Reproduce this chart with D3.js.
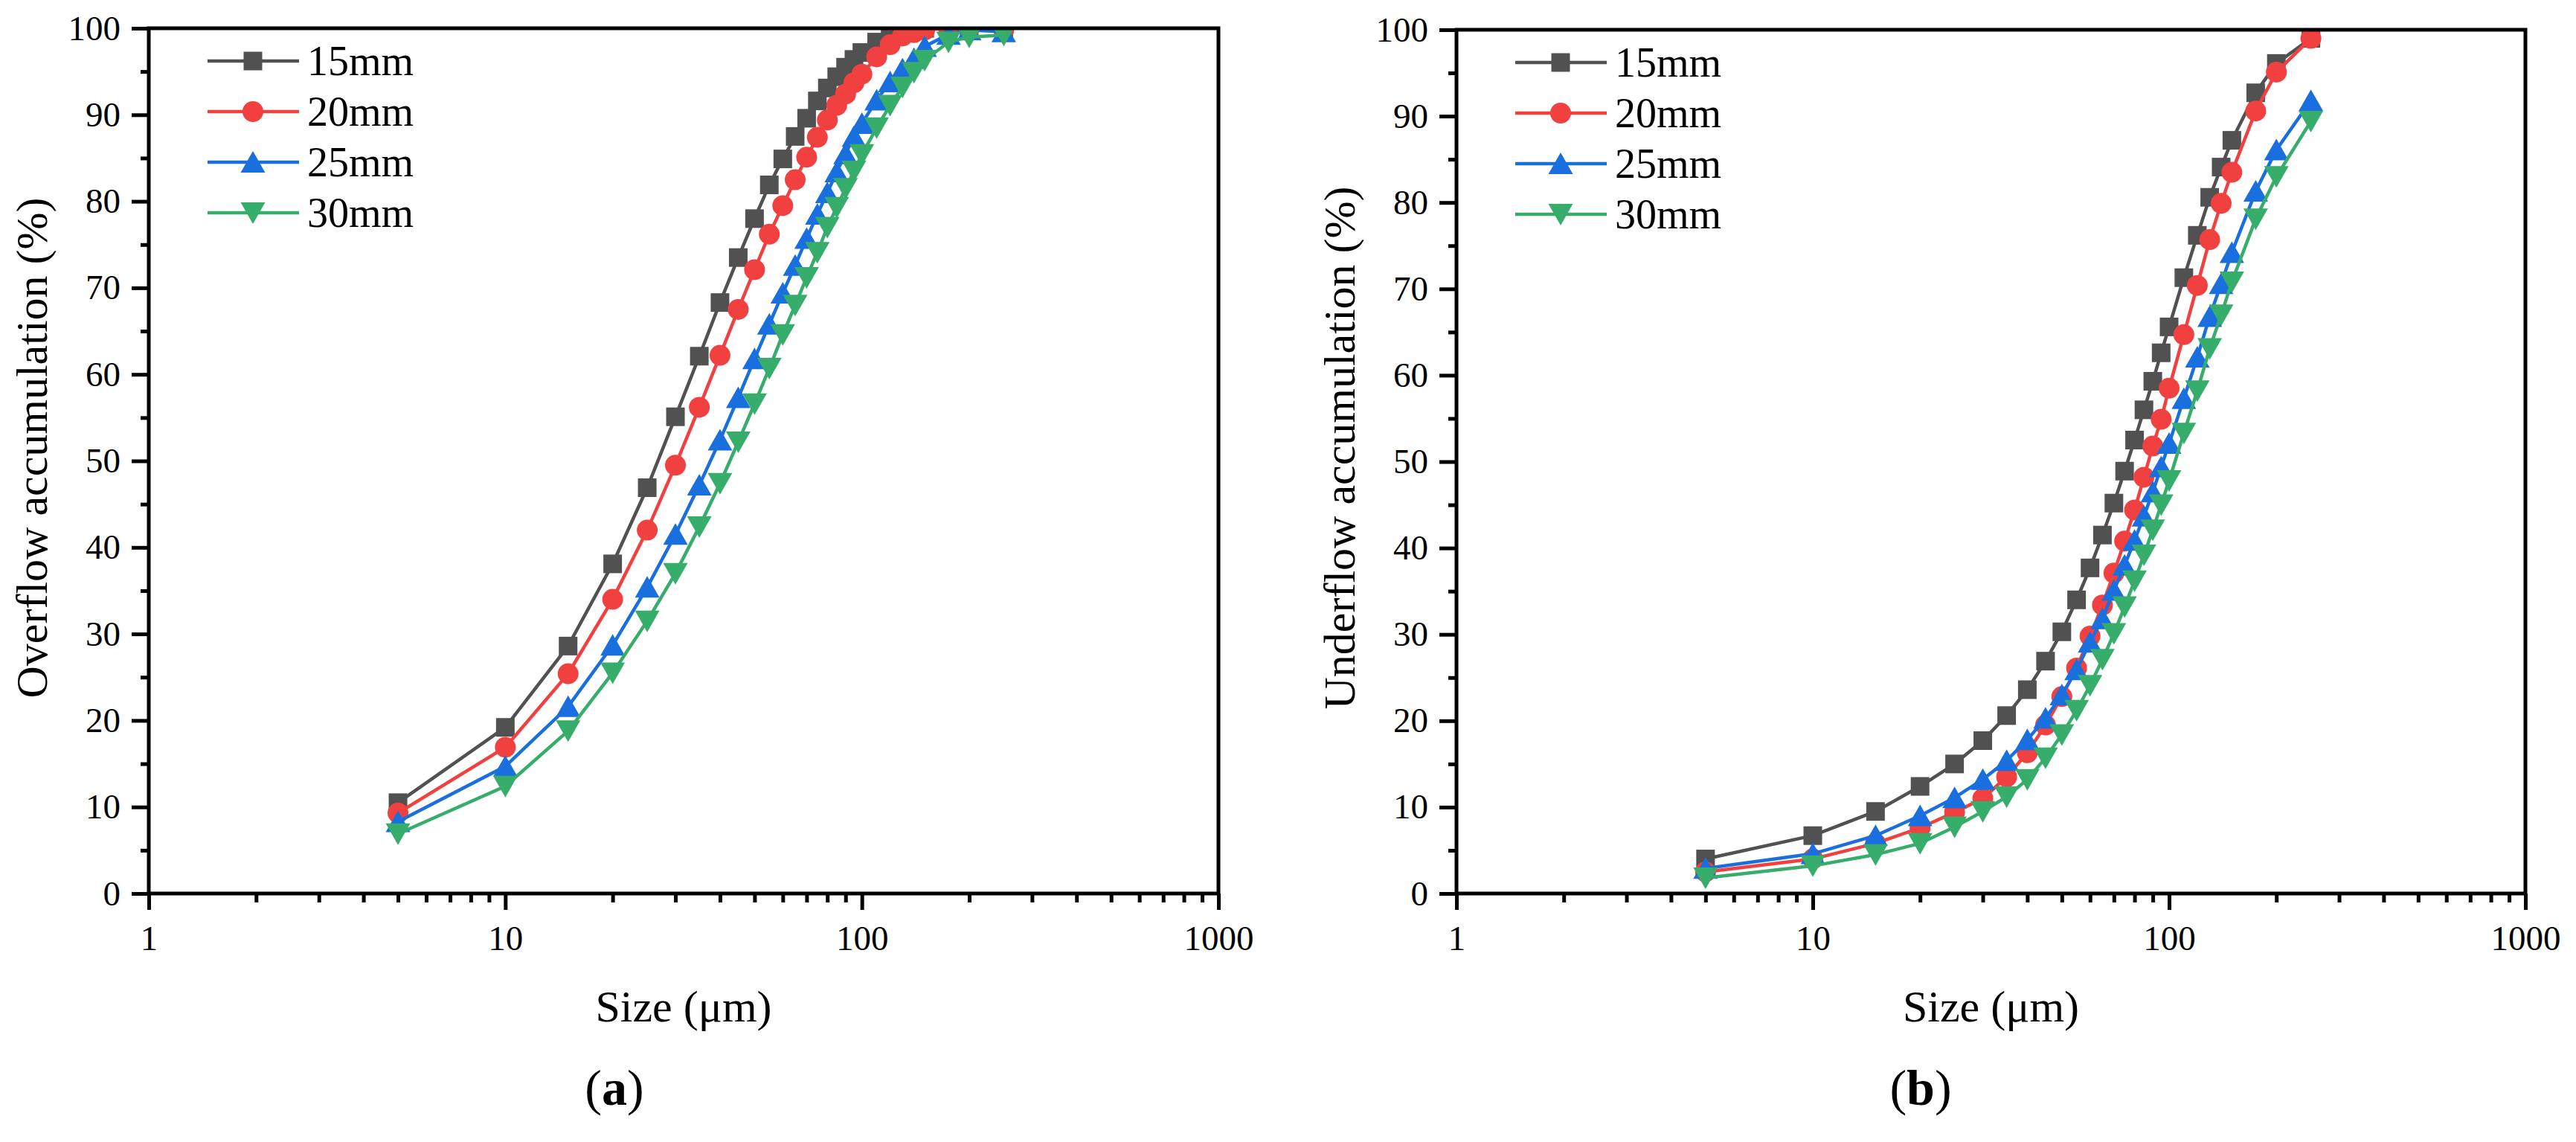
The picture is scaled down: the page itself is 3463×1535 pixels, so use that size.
<!DOCTYPE html>
<html>
<head>
<meta charset="utf-8">
<script src="https://cdn.jsdelivr.net/npm/d3@7"></script>
<style>
  body { margin: 0; background: #fff; }
  text { font-family: "Liberation Serif", "Times New Roman", serif; fill: #000; }
</style>
</head>
<body>
<div id="chart"></div>
<script>
var svgWidth = 3463;
var svgHeight = 1535;

// particle sizes (um), shared by every series
var sizes = [5, 10, 15, 20, 25, 30, 35, 40, 45, 50, 55, 60, 65, 70, 75, 80, 85, 90, 95, 100,
  110, 120, 130, 140, 150, 175, 200, 250];

var seriesNames = ["15mm", "20mm", "25mm", "30mm"];
var seriesColors = ["#515151", "#F14040", "#1A6FDF", "#37AD6B"];
var seriesSymbols = ["square", "circle", "triangleUp", "triangleDown"];

// (a) overflow accumulation (%)
var overflow15 = [10.5, 19.2, 28.6, 38.1, 46.9, 55.1, 62.1, 68.3, 73.5, 78.0, 81.9, 84.9, 87.5, 89.6, 91.6, 93.1, 94.4, 95.5, 96.4, 97.2,
  98.4, 99.2, 99.7, 100, 100, 100, 100, 100];
var overflow20 = [9.3, 16.9, 25.4, 34.0, 42.0, 49.5, 56.2, 62.2, 67.5, 72.1, 76.2, 79.5, 82.5, 85.1, 87.4, 89.4, 91.1, 92.4, 93.7, 94.7,
  96.7, 98.1, 99.1, 99.5, 99.8, 100, 100, 99.8];
var overflow25 = [8.3, 14.7, 21.6, 28.7, 35.4, 41.5, 47.2, 52.4, 57.3, 61.8, 65.8, 69.4, 72.6, 75.7, 78.5, 81.0, 83.4, 85.5, 87.5, 89.0,
  91.7, 93.8, 95.3, 96.5, 97.9, 99.3, 99.8, 99.6];
var overflow30 = [6.9, 12.4, 18.8, 25.5, 31.5, 37.0, 42.4, 47.4, 52.2, 56.6, 60.7, 64.6, 68.0, 71.2, 74.1, 77.0, 79.3, 81.5, 83.5, 85.4,
  88.5, 91.1, 93.2, 94.9, 96.3, 98.4, 99.0, 99.2];

// (b) underflow accumulation (%)
var underflow15 = [4.0, 6.7, 9.5, 12.4, 15.0, 17.7, 20.6, 23.6, 26.9, 30.3, 34.0, 37.7, 41.5, 45.2, 48.9, 52.5, 56.0, 59.3, 62.6, 65.6,
  71.3, 76.2, 80.6, 84.1, 87.2, 92.7, 96.1, 99.0];
var underflow20 = [2.5, 4.0, 5.8, 7.6, 9.4, 11.0, 13.5, 16.3, 19.5, 22.8, 26.1, 29.8, 33.4, 37.1, 40.8, 44.4, 48.2, 51.8, 54.9, 58.5,
  64.7, 70.4, 75.7, 79.9, 83.5, 90.6, 95.1, 99.0];
var underflow25 = [2.9, 4.6, 6.7, 9.0, 11.1, 13.2, 15.4, 17.8, 20.3, 23.0, 25.9, 29.1, 31.8, 35.1, 38.0, 40.9, 43.7, 46.5, 49.4, 52.1,
  57.3, 62.1, 66.8, 70.6, 74.2, 81.3, 86.1, 91.8];
var underflow30 = [1.8, 3.2, 4.5, 5.8, 7.7, 9.5, 11.2, 13.2, 15.7, 18.4, 21.2, 24.1, 27.1, 30.1, 33.2, 36.2, 39.2, 42.1, 45.0, 47.8,
  53.3, 58.2, 63.1, 67.0, 70.8, 78.1, 83.0, 89.4];

var xTickValues = [1, 10, 100, 1000];
var yTickValues = [0, 10, 20, 30, 40, 50, 60, 70, 80, 90, 100];
var yMinorValues = [5, 15, 25, 35, 45, 55, 65, 75, 85, 95];

var svg = d3.select("#chart")
  .append("svg")
  .attr("width", svgWidth)
  .attr("height", svgHeight);

var defs = svg.append("defs");

// marker path centred on 0,0
function symbolPath(kind) {
  if (kind === "square") return "M-12.5,-12.5H12.5V12.5H-12.5Z";
  if (kind === "circle") return "M-14,0A14,14 0 1,0 14,0A14,14 0 1,0 -14,0Z";
  if (kind === "triangleUp") return "M0,-15L16.5,14L-16.5,14Z";
  return "M0,15L16.5,-14L-16.5,-14Z";
}

function drawPanel(id, box, yTitle, tag, tagX, seriesValues) {
  var g = svg.append("g");

  var xScale = d3.scaleLog().domain([1, 1000]).range([box.left, box.right]);
  var yScale = d3.scaleLinear().domain([0, 100]).range([box.bottom, box.top]);

  // data is clipped to the plot area
  defs.append("clipPath")
    .attr("id", "clip-" + id)
    .append("rect")
    .attr("x", box.left)
    .attr("y", box.top)
    .attr("width", box.right - box.left)
    .attr("height", box.bottom - box.top);

  // minor ticks 2..9 in each decade
  var xMinor = [];
  [1, 10, 100].forEach(function(d) {
    for (var k = 2; k <= 9; k++) xMinor.push(d * k);
  });

  var xAxis = g.append("g")
    .attr("transform", `translate(0, ${box.bottom})`)
    .call(d3.axisBottom(xScale).tickValues(xTickValues).tickSize(22).tickPadding(21).tickFormat(d3.format("d")));
  var xAxisMinor = g.append("g")
    .attr("transform", `translate(0, ${box.bottom})`)
    .call(d3.axisBottom(xScale).tickValues(xMinor).tickSize(12).tickFormat(""));

  var yAxis = g.append("g")
    .attr("transform", `translate(${box.left}, 0)`)
    .call(d3.axisLeft(yScale).tickValues(yTickValues).tickSize(23).tickPadding(15));
  var yAxisMinor = g.append("g")
    .attr("transform", `translate(${box.left}, 0)`)
    .call(d3.axisLeft(yScale).tickValues(yMinorValues).tickSize(11).tickFormat(""));

  [xAxis, xAxisMinor, yAxis, yAxisMinor].forEach(function(a) {
    a.select(".domain").remove();
    a.attr("font-family", null).attr("font-size", null);
    a.selectAll("line").attr("stroke", "#000").attr("stroke-width", 5);
    a.selectAll("text").style("font-size", "47px");
  });

  var line = d3.line()
    .x(function(d) { return xScale(d[0]); })
    .y(function(d) { return yScale(d[1]); });

  var plot = g.append("g").attr("clip-path", "url(#clip-" + id + ")");

  seriesValues.forEach(function(vals, i) {
    var pts = sizes.map(function(s, j) { return [s, vals[j]]; });
    var sg = plot.append("g");
    sg.append("path")
      .attr("d", line(pts))
      .attr("fill", "none")
      .attr("stroke", seriesColors[i])
      .attr("stroke-width", 4.5);
    sg.selectAll("path.mark")
      .data(pts)
      .enter()
      .append("path")
      .attr("class", "mark")
      .attr("d", symbolPath(seriesSymbols[i]))
      .attr("transform", function(d) { return `translate(${xScale(d[0])}, ${yScale(d[1])})`; })
      .attr("fill", seriesColors[i]);
  });

  // frame
  g.append("rect")
    .attr("x", box.left)
    .attr("y", box.top)
    .attr("width", box.right - box.left)
    .attr("height", box.bottom - box.top)
    .attr("fill", "none")
    .attr("stroke", "#000")
    .attr("stroke-width", 5);

  // legend
  seriesNames.forEach(function(name, i) {
    var rowY = box.top + 44 + i * 68;
    g.append("line")
      .attr("x1", box.left + 79).attr("x2", box.left + 202)
      .attr("y1", rowY).attr("y2", rowY)
      .attr("stroke", seriesColors[i])
      .attr("stroke-width", 4.5);
    g.append("path")
      .attr("d", symbolPath(seriesSymbols[i]))
      .attr("transform", `translate(${box.left + 140}, ${rowY})`)
      .attr("fill", seriesColors[i]);
    g.append("text")
      .attr("x", box.left + 213)
      .attr("y", rowY + 19)
      .style("font-size", "56px")
      .text(name);
  });

  // axis titles
  g.append("text")
    .attr("transform", `translate(${box.left - 137}, 602) rotate(-90)`)
    .attr("text-anchor", "middle")
    .style("font-size", "60px")
    .text(yTitle);

  g.append("text")
    .attr("x", (box.left + box.right) / 2)
    .attr("y", 1373)
    .attr("text-anchor", "middle")
    .style("font-size", "60px")
    .text("Size (μm)");

  var t = g.append("text")
    .attr("x", tagX)
    .attr("y", 1485)
    .attr("text-anchor", "middle")
    .style("font-size", "68px");
  t.append("tspan").text("(");
  t.append("tspan").style("font-weight", "bold").text(tag);
  t.append("tspan").text(")");
}

drawPanel("a", { left: 200, right: 1638, top: 38, bottom: 1201 },
  "Overflow accumulation (%)", "a", 826,
  [overflow15, overflow20, overflow25, overflow30]);

drawPanel("b", { left: 1958, right: 3395, top: 40, bottom: 1201 },
  "Underflow accumulation (%)", "b", 2582,
  [underflow15, underflow20, underflow25, underflow30]);
</script>
</body>
</html>
